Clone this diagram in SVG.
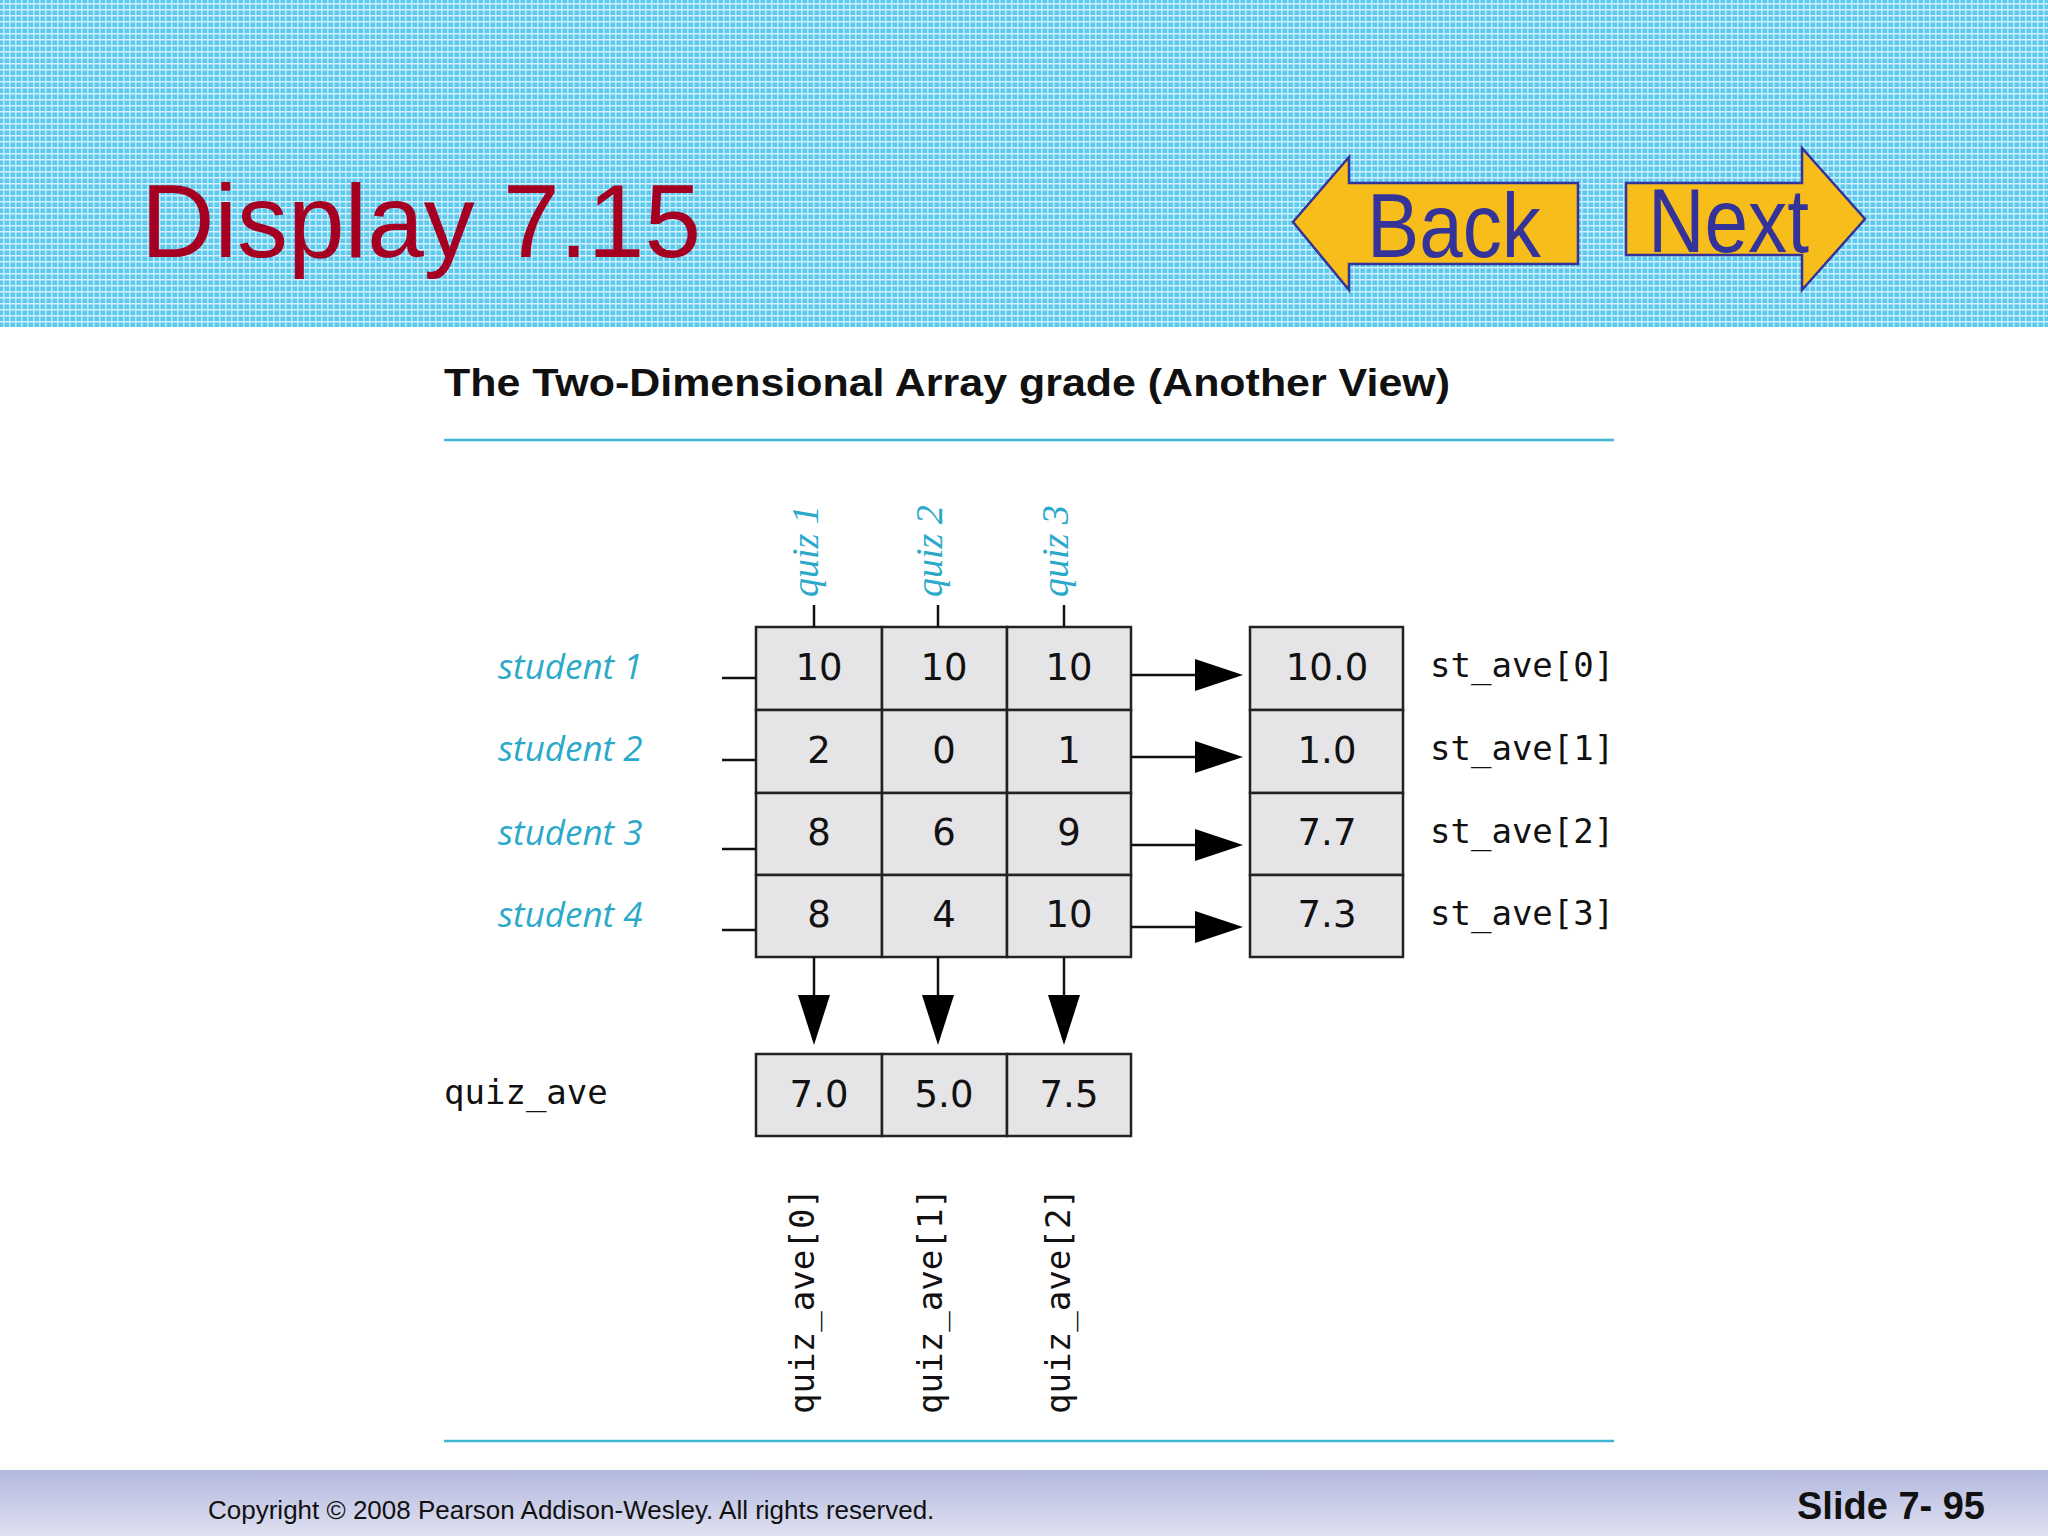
<svg xmlns="http://www.w3.org/2000/svg" width="2048" height="1536" viewBox="0 0 2048 1536">
<style>
.cell{fill:#e5e4e7;stroke:#222;stroke-width:2.5}
.num{font-family:"DejaVu Sans",sans-serif;font-size:37px;fill:#111;text-anchor:middle}
.mono{font-family:"DejaVu Sans Mono",monospace;font-size:34px;fill:#111}
.stu{font-family:"Open Sans",sans-serif;font-style:italic;font-size:35px;fill:#2ba9c9}
.quiz{font-family:"Liberation Serif",serif;font-style:italic;font-size:38px;fill:#2ba9c9}
.ln{stroke:#111;stroke-width:2.5;fill:none}
.rule{stroke:#3cb6d2;stroke-width:2.5}
</style>
<defs>
<pattern id="dots" width="6" height="6" patternUnits="userSpaceOnUse">
<rect width="6" height="6" fill="#5cc9ef"/>
<rect x="0" y="3" width="6" height="1.5" fill="#d8f2fb"/>
<rect x="3" y="0" width="1.5" height="6" fill="#c0eaf8"/>
</pattern>
<linearGradient id="foot" x1="0" y1="0" x2="0" y2="1">
<stop offset="0" stop-color="#b3b8de"/><stop offset="1" stop-color="#dfe1f1"/>
</linearGradient>
<marker id="ah" markerWidth="10" markerHeight="10" refX="10" refY="5" orient="auto" markerUnits="userSpaceOnUse" viewBox="0 0 10 10">
<path d="M0,0 L10,5 L0,10 Z" fill="#000"/>
</marker>
</defs>
<rect width="2048" height="1536" fill="#fff"/>
<g id="header">
<rect x="0" y="0" width="2048" height="327" fill="url(#dots)"/>
<text x="141" y="257" font-family="Liberation Sans,sans-serif" font-size="104" fill="#a50021" textLength="560" lengthAdjust="spacingAndGlyphs">Display 7.15</text>
</g>
<g id="back">
<polygon points="1293,222 1349,157 1349,183 1578,183 1578,264 1349,264 1349,290" fill="#f7bd1b" stroke="#333399" stroke-width="2.5"/>
<text x="1367" y="257" font-family="Liberation Sans,sans-serif" font-size="90" fill="#333399" textLength="174" lengthAdjust="spacingAndGlyphs">Back</text>
</g>
<g id="next">
<polygon points="1626,183 1802,183 1802,148 1865,219 1802,290 1802,255 1626,255" fill="#f7bd1b" stroke="#333399" stroke-width="2.5"/>
<text x="1648" y="252" font-family="Liberation Sans,sans-serif" font-size="90" fill="#333399" textLength="161" lengthAdjust="spacingAndGlyphs">Next</text>
</g>
<g id="title">
<text x="444" y="396" font-family="Liberation Sans,sans-serif" font-weight="bold" font-size="39" fill="#111" textLength="1006" lengthAdjust="spacingAndGlyphs">The Two-Dimensional Array grade (Another View)</text>
<line class="rule" x1="444" y1="440" x2="1614" y2="440"/>
<line class="rule" x1="444" y1="1441" x2="1614" y2="1441"/>
</g>
<g id="grade">
<rect class="cell" x="756" y="627" width="126" height="83"/><rect class="cell" x="882" y="627" width="125" height="83"/><rect class="cell" x="1007" y="627" width="124" height="83"/>
<rect class="cell" x="756" y="710" width="126" height="83"/><rect class="cell" x="882" y="710" width="125" height="83"/><rect class="cell" x="1007" y="710" width="124" height="83"/>
<rect class="cell" x="756" y="793" width="126" height="82"/><rect class="cell" x="882" y="793" width="125" height="82"/><rect class="cell" x="1007" y="793" width="124" height="82"/>
<rect class="cell" x="756" y="875" width="126" height="82"/><rect class="cell" x="882" y="875" width="125" height="82"/><rect class="cell" x="1007" y="875" width="124" height="82"/>
<text class="num" x="819" y="680">10</text><text class="num" x="944" y="680">10</text><text class="num" x="1069" y="680">10</text>
<text class="num" x="819" y="763">2</text><text class="num" x="944" y="763">0</text><text class="num" x="1069" y="763">1</text>
<text class="num" x="819" y="845">8</text><text class="num" x="944" y="845">6</text><text class="num" x="1069" y="845">9</text>
<text class="num" x="819" y="927">8</text><text class="num" x="944" y="927">4</text><text class="num" x="1069" y="927">10</text>
</g>
<g id="st_ave">
<rect class="cell" x="1250" y="627" width="153" height="83"/><rect class="cell" x="1250" y="710" width="153" height="83"/>
<rect class="cell" x="1250" y="793" width="153" height="82"/><rect class="cell" x="1250" y="875" width="153" height="82"/>
<text class="num" x="1327" y="680">10.0</text><text class="num" x="1327" y="763">1.0</text>
<text class="num" x="1327" y="845">7.7</text><text class="num" x="1327" y="927">7.3</text>
<text class="mono" x="1430" y="677">st_ave[0]</text><text class="mono" x="1430" y="760">st_ave[1]</text>
<text class="mono" x="1430" y="843">st_ave[2]</text><text class="mono" x="1430" y="925">st_ave[3]</text>
</g>
<g id="quiz_ave">
<rect class="cell" x="756" y="1054" width="126" height="82"/><rect class="cell" x="882" y="1054" width="125" height="82"/><rect class="cell" x="1007" y="1054" width="124" height="82"/>
<text class="num" x="819" y="1107">7.0</text><text class="num" x="944" y="1107">5.0</text><text class="num" x="1069" y="1107">7.5</text>
<text class="mono" x="444" y="1104">quiz_ave</text>
<text class="mono" transform="translate(814,1414) rotate(-90)" textLength="226" lengthAdjust="spacingAndGlyphs">quiz_ave[0]</text>
<text class="mono" transform="translate(942,1414) rotate(-90)" textLength="226" lengthAdjust="spacingAndGlyphs">quiz_ave[1]</text>
<text class="mono" transform="translate(1070,1414) rotate(-90)" textLength="226" lengthAdjust="spacingAndGlyphs">quiz_ave[2]</text>
</g>
<g id="labels">
<text class="stu" x="498" y="679">student 1</text><text class="stu" x="498" y="761">student 2</text>
<text class="stu" x="498" y="845">student 3</text><text class="stu" x="498" y="927">student 4</text>
<text class="quiz" transform="translate(818,597) rotate(-90)">quiz 1</text>
<text class="quiz" transform="translate(942,597) rotate(-90)">quiz 2</text>
<text class="quiz" transform="translate(1068,597) rotate(-90)">quiz 3</text>
</g>
<g id="connectors">
<line class="ln" x1="814" y1="605" x2="814" y2="627"/><line class="ln" x1="938" y1="605" x2="938" y2="627"/><line class="ln" x1="1064" y1="605" x2="1064" y2="627"/>
<line class="ln" x1="722" y1="678" x2="756" y2="678"/><line class="ln" x1="722" y1="760" x2="756" y2="760"/>
<line class="ln" x1="722" y1="849" x2="756" y2="849"/><line class="ln" x1="722" y1="930" x2="756" y2="930"/>
<g fill="#000">
<line class="ln" x1="1131" y1="675" x2="1200" y2="675"/><polygon points="1195,659 1243,675 1195,691"/>
<line class="ln" x1="1131" y1="757" x2="1200" y2="757"/><polygon points="1195,741 1243,757 1195,773"/>
<line class="ln" x1="1131" y1="845" x2="1200" y2="845"/><polygon points="1195,829 1243,845 1195,861"/>
<line class="ln" x1="1131" y1="927" x2="1200" y2="927"/><polygon points="1195,911 1243,927 1195,943"/>
<line class="ln" x1="814" y1="957" x2="814" y2="1000"/><polygon points="798,995 814,1045 830,995"/>
<line class="ln" x1="938" y1="957" x2="938" y2="1000"/><polygon points="922,995 938,1045 954,995"/>
<line class="ln" x1="1064" y1="957" x2="1064" y2="1000"/><polygon points="1048,995 1064,1045 1080,995"/>
</g>
</g>
<g id="footer">
<rect x="0" y="1470" width="2048" height="66" fill="url(#foot)"/>
<text x="208" y="1519" font-family="Liberation Sans,sans-serif" font-size="26" fill="#111">Copyright © 2008 Pearson Addison-Wesley.  All rights reserved.</text>
<text x="1985" y="1519" font-family="Liberation Sans,sans-serif" font-weight="bold" font-size="38" fill="#111" text-anchor="end">Slide 7- 95</text>
</g>
</svg>
